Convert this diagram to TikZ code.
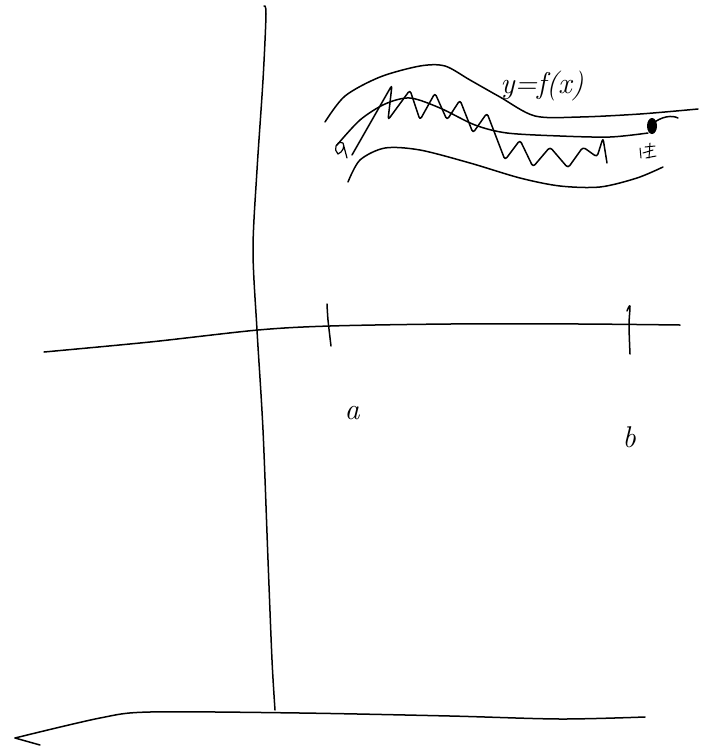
\documentclass[tikz,border=0pt]{standalone}
\usetikzlibrary{calc}
\begin{document}
\begin{tikzpicture}[x=1pt,y=-1pt,
  pen/.style={line width=1.5pt,line cap=round,line join=round,black},
  lbl/.style={font=\fontsize{30}{30}\selectfont\itshape,inner sep=0pt}]
\useasboundingbox (0,0) rectangle (705,748);
% vertical axis
\draw[pen] plot[smooth] coordinates {(264,6) (266,14) (263,80) (257,170) (253,250) (257,330) (263,430) (268,560) (272,660) (275,710)};
% horizontal x-axis
\draw[pen] plot[smooth] coordinates {(44,352) (150,342) (258,330) (330,326) (450,324) (580,324) (680,325)};
% ticks
\draw[pen] plot[smooth] coordinates {(327,304) (328,320) (331,346)};
\draw[pen] plot[smooth] coordinates {(627,311) (630,306) (629,325) (630,354)};
% bottom line
\draw[pen] plot[smooth] coordinates {(645,717) (560,719) (450,716) (300,713) (150,712) (100,718) (15,738)};
\draw[pen] (15,738) -- (40,745);
% labels
\node[lbl] (la) at (352,413) {a};
\node[lbl] (lb) at (629,437) {b};
% upper band
\draw[pen] plot[smooth] coordinates {(325,122) (345,96) (380,77) (420,66) (445,66) (470,80) (500,97) (535,116) (580,117) (640,114) (698,109)};
% middle curve f
\draw[pen] plot[smooth] coordinates {(337,145) (360,120) (385,104) (410,98) (440,108) (475,125) (507,133) (560,136) (610,137) (648,133)};
\draw[pen] (652,124) .. controls (662,116) and (672,115) .. (678,118);
\fill (652,126) ellipse (5pt and 8pt);
% small a at left end
\draw[pen,line width=1.2pt] (343,143) .. controls (336,140) and (333,150) .. (338,154) .. controls (343,152) and (345,146) .. (343,143) -- (347,158);
% lower band
\draw[pen] plot[smooth] coordinates {(348,182) (360,160) (385,148) (420,150) (470,163) (520,178) (560,186) (600,187) (637,178) (663,167)};
% zigzag
\draw[pen,rounded corners=3pt] (352,155) -- (392,85) -- (388,120) -- (410,90) -- (420,120) -- (435,93) -- (447,120) -- (460,100) -- (473,133) -- (487,113) -- (505,160) -- (520,140) -- (533,167) -- (550,147) -- (568,168) -- (583,147) -- (597,157) -- (603,138) -- (607,163);
% scribble marks near b
\draw[pen,line width=1pt] (640,148) -- (641,158);
\draw[pen,line width=1pt] (645,147) -- (655,146);
\draw[pen,line width=1pt] (643,153) -- (653,150);
\draw[pen,line width=1pt] (646,158) -- (656,156);
\draw[pen,line width=1pt] (650,143) -- (649,158);
% y = f(x)
\node[font=\fontsize{30}{30}\selectfont\itshape,inner sep=0pt] (fx) at (542,86) {y=f(x)};
\end{tikzpicture}
\end{document}
